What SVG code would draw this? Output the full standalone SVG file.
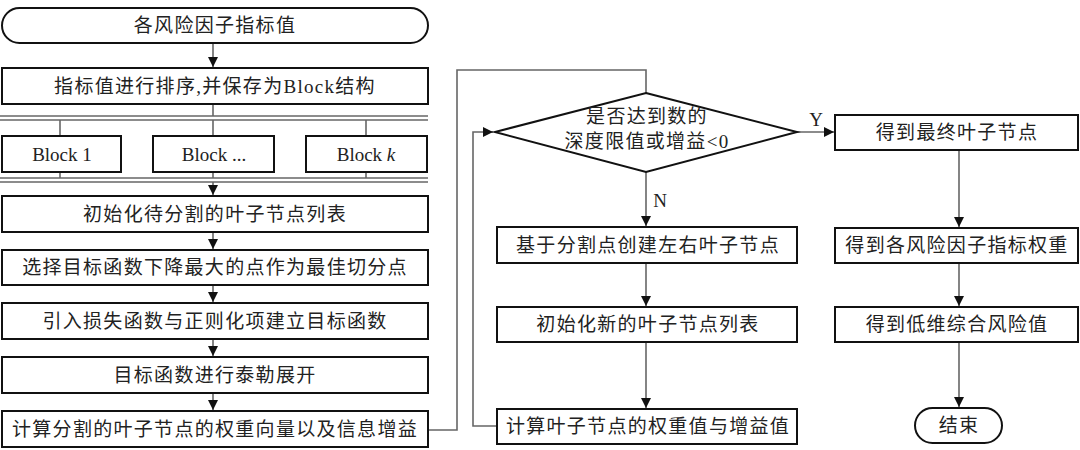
<svg xmlns="http://www.w3.org/2000/svg" width="1080" height="450" viewBox="0 0 1080 450">
<style>
.box{fill:#fff;stroke:#111;stroke-width:2}
.ln{fill:none;stroke:#666;stroke-width:1.6}
.t{font-family:"Liberation Serif","Noto Sans CJK SC",serif;font-size:19px;fill:#222;text-anchor:middle;letter-spacing:1.3px}
.l{font-family:"Liberation Serif",serif;font-size:19px;fill:#222;text-anchor:middle}
</style>
<defs>
<marker id="a" viewBox="0 0 10 10" refX="10" refY="5" markerWidth="10" markerHeight="10" markerUnits="userSpaceOnUse" orient="auto">
<path d="M0,0 L10,5 L0,10 Z" fill="#111"/>
</marker>
</defs>
<g id="connectors">
<line class="ln" x1="213" y1="43" x2="213" y2="67" marker-end="url(#a)"/>
<line class="ln" x1="213" y1="104" x2="213" y2="116"/>
<line class="ln" x1="0" y1="116" x2="428" y2="116"/>
<line class="ln" x1="0" y1="120" x2="428" y2="120"/>
<line class="ln" x1="60" y1="120" x2="60" y2="136"/>
<line class="ln" x1="213" y1="120" x2="213" y2="136"/>
<line class="ln" x1="366" y1="120" x2="366" y2="136"/>
<line class="ln" x1="60" y1="172" x2="60" y2="178"/>
<line class="ln" x1="213" y1="172" x2="213" y2="178"/>
<line class="ln" x1="366" y1="172" x2="366" y2="178"/>
<line class="ln" x1="0" y1="178" x2="428" y2="178"/>
<line class="ln" x1="0" y1="182" x2="428" y2="182"/>
<line class="ln" x1="213" y1="182" x2="213" y2="195" marker-end="url(#a)"/>
<line class="ln" x1="213" y1="232" x2="213" y2="249" marker-end="url(#a)"/>
<line class="ln" x1="213" y1="285" x2="213" y2="302" marker-end="url(#a)"/>
<line class="ln" x1="213" y1="339" x2="213" y2="356" marker-end="url(#a)"/>
<line class="ln" x1="213" y1="393" x2="213" y2="410" marker-end="url(#a)"/>
<polyline class="ln" points="428,430 457,430 457,70 646,70 646,93"/>
<polyline class="ln" points="497,426 473,426 473,132 493,132" marker-end="url(#a)"/>
<line class="ln" x1="646" y1="172" x2="646" y2="226" marker-end="url(#a)"/>
<line class="ln" x1="646" y1="263" x2="646" y2="306" marker-end="url(#a)"/>
<line class="ln" x1="646" y1="342" x2="646" y2="408" marker-end="url(#a)"/>
<line class="ln" x1="797" y1="132" x2="834" y2="132" marker-end="url(#a)"/>
<line class="ln" x1="959" y1="150" x2="959" y2="227" marker-end="url(#a)"/>
<line class="ln" x1="959" y1="263" x2="959" y2="306" marker-end="url(#a)"/>
<line class="ln" x1="959" y1="342" x2="959" y2="407" marker-end="url(#a)"/>
<text class="l" x="660" y="207">N</text>
<text class="l" x="816" y="126">Y</text>
</g>
<g id="start"><rect class="box" x="2" y="8" width="426" height="35" rx="17.5"/><text class="t" x="215" y="32">各风险因子指标值</text></g>
<g id="sort"><rect class="box" x="2" y="68" width="426" height="36"/><text class="t" x="215" y="93">指标值进行排序,并保存为Block结构</text></g>
<g id="block1"><rect class="box" x="2" y="136" width="119" height="36"/><text class="l" x="62" y="161">Block 1</text></g>
<g id="block2"><rect class="box" x="153" y="136" width="121" height="36"/><text class="l" x="214" y="161">Block ...</text></g>
<g id="blockk"><rect class="box" x="306" y="136" width="121" height="36"/><text class="l" x="366" y="161">Block <tspan font-style="italic">k</tspan></text></g>
<g id="init"><rect class="box" x="2" y="196" width="426" height="36"/><text class="t" x="215" y="221">初始化待分割的叶子节点列表</text></g>
<g id="select"><rect class="box" x="2" y="250" width="426" height="35"/><text class="t" x="215" y="274">选择目标函数下降最大的点作为最佳切分点</text></g>
<g id="loss"><rect class="box" x="2" y="303" width="426" height="36"/><text class="t" x="215" y="328">引入损失函数与正则化项建立目标函数</text></g>
<g id="taylor"><rect class="box" x="2" y="357" width="426" height="36"/><text class="t" x="215" y="382">目标函数进行泰勒展开</text></g>
<g id="calc"><rect class="box" x="2" y="411" width="426" height="36"/><text class="t" x="215" y="436">计算分割的叶子节点的权重向量以及信息增益</text></g>
<g id="decision"><polygon class="box" points="646,93 797,132 646,172 495,132"/><text class="t" x="647" y="123">是否达到数的</text><text class="t" x="647" y="148">深度限值或增益&lt;0</text></g>
<g id="create"><rect class="box" x="497" y="227" width="300" height="36"/><text class="t" x="648" y="252">基于分割点创建左右叶子节点</text></g>
<g id="newlist"><rect class="box" x="497" y="307" width="300" height="35"/><text class="t" x="648" y="331">初始化新的叶子节点列表</text></g>
<g id="weights"><rect class="box" x="497" y="409" width="300" height="35"/><text class="t" x="648" y="433">计算叶子节点的权重值与增益值</text></g>
<g id="final"><rect class="box" x="835" y="115" width="243" height="35"/><text class="t" x="957" y="139">得到最终叶子节点</text></g>
<g id="factorw"><rect class="box" x="835" y="228" width="243" height="35"/><text class="t" x="957" y="252">得到各风险因子指标权重</text></g>
<g id="lowdim"><rect class="box" x="835" y="307" width="243" height="35"/><text class="t" x="957" y="331">得到低维综合风险值</text></g>
<g id="end"><rect class="box" x="915" y="408" width="87" height="35" rx="17.5"/><text class="t" x="959" y="432">结束</text></g>
</svg>
